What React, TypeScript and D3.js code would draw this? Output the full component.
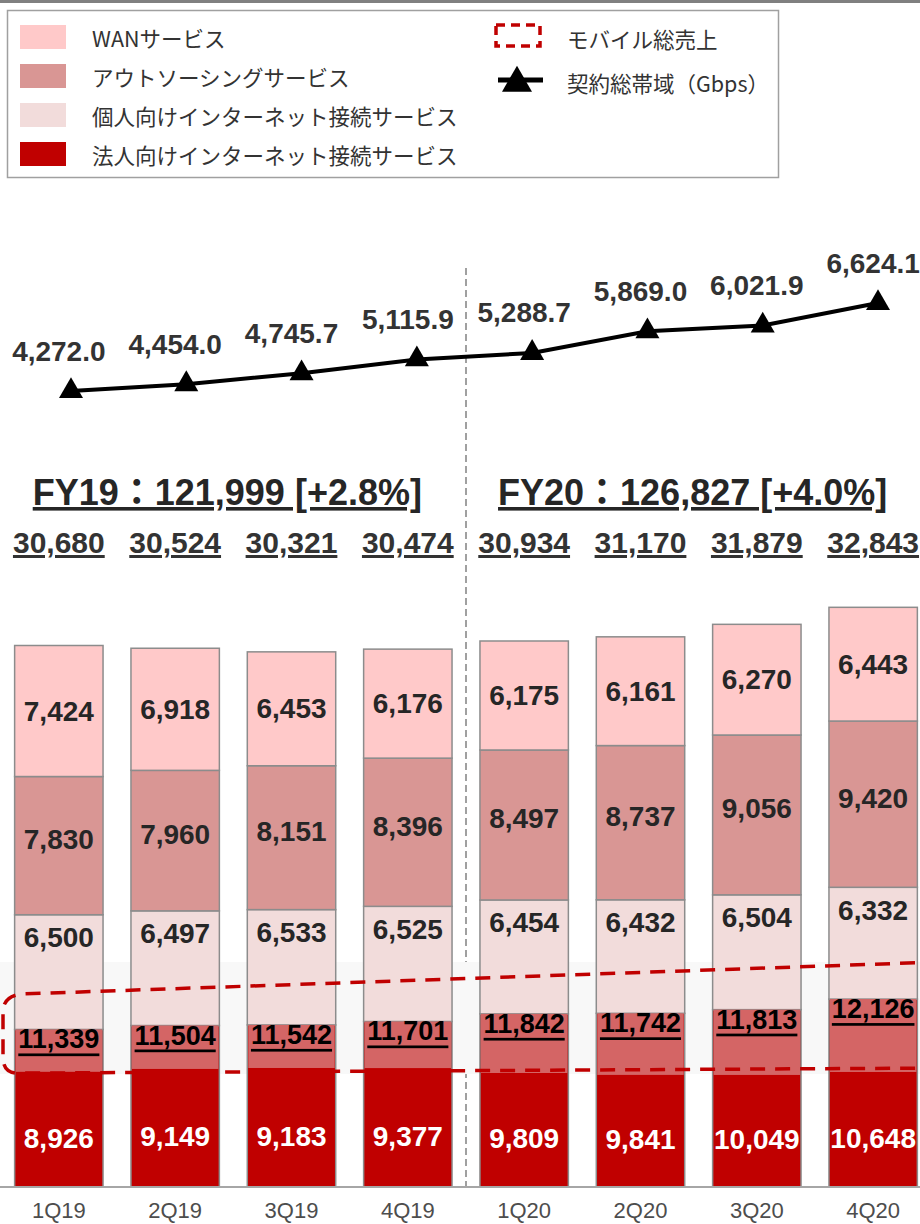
import React from "react";
import * as d3 from "d3";

// quarters on the x axis
const quarters = ["1Q19", "2Q19", "3Q19", "4Q19", "1Q20", "2Q20", "3Q20", "4Q20"];

// revenue segments (stacked bottom -> top)
const corporate = [8926, 9149, 9183, 9377, 9809, 9841, 10049, 10648];
const individual = [6500, 6497, 6533, 6525, 6454, 6432, 6504, 6332];
const outsourcing = [7830, 7960, 8151, 8396, 8497, 8737, 9056, 9420];
const wan = [7424, 6918, 6453, 6176, 6175, 6161, 6270, 6443];

// upper part of the corporate bar shaded as mobile
const corporateMobile = [2400, 2460, 2440, 2640, 3350, 3490, 3700, 4130];
const mobileTotal = [11339, 11504, 11542, 11701, 11842, 11742, 11813, 12126];

const totals = [30680, 30524, 30321, 30474, 30934, 31170, 31879, 32843];

// contracted bandwidth (Gbps)
const bandwidthGbps = [4272.0, 4454.0, 4745.7, 5115.9, 5288.7, 5869.0, 6021.9, 6624.1];

const fiscalYears = ["FY19", "FY20"];
const fiscalLabels = ["FY19：121,999 [+2.8%]", "FY20：126,827 [+4.0%]"];

const seriesKeys = ["wan", "outsourcing", "individual", "corporate"];
const seriesNames = [
  "WANサービス",
  "アウトソーシングサービス",
  "個人向けインターネット接続サービス",
  "法人向けインターネット接続サービス",
];

const colorScale = d3
  .scaleOrdinal<string, string>()
  .domain(seriesKeys)
  .range(["#ffc9c9", "#d99694", "#f2dcdb", "#c00000"]);
const mobileColor = "#d46565";

const W = 920;
const H = 1224;
const baseY = 1187;
const latin = "'Liberation Sans', Arial, 'Noto Sans CJK JP', sans-serif";
const jp = "'Noto Sans CJK JP', 'Liberation Sans', sans-serif";
const fmt = d3.format(",");
const fmt1 = d3.format(",.1f");

export default function App() {
  const xScale = d3
    .scaleBand<string>()
    .domain(quarters)
    .range([3, 929])
    .paddingInner(0.24)
    .paddingOuter(0.1);
  const bw = xScale.bandwidth();
  const cx = (q: string) => (xScale(q) as number) + bw / 2;

  const yScale = d3.scaleLinear().domain([0, 33000]).range([baseY, baseY - 33000 * 0.01765]);

  const lineX = d3.scalePoint<string>().domain(quarters).range([71, 878]);
  const lineY = d3.scaleLinear().domain([4272, 6624.1]).range([391, 303]);

  const rows = quarters.map((q, i) => ({
    q,
    corporate: corporate[i],
    individual: individual[i],
    outsourcing: outsourcing[i],
    wan: wan[i],
  }));
  const stacked = d3
    .stack<any>()
    .keys(["corporate", "individual", "outsourcing", "wan"])(rows);

  const linePath = d3
    .line<number>()
    .x((_, i) => lineX(quarters[i]) as number)
    .y((d) => lineY(d))(bandwidthGbps);

  const tri = d3.symbol().type(d3.symbolTriangle).size(250)() as string;
  const triBig = d3.symbol().type(d3.symbolTriangle).size(390)() as string;

  // dashed "mobile" band, corners in value space
  const tl = [22, yScale(10935)];
  const tr = [940, yScale(12750)];
  const bl = [18, yScale(6450)];
  const br = [940, yScale(6740)];
  const bandPath = `M${tr[0]},${tr[1]} L${tl[0]},${tl[1]} Q3,${tl[1] + 2} 3,${tl[1] + 18} L3,${bl[1] - 16} Q3,${bl[1]} ${bl[0]},${bl[1]} L${br[0]},${br[1]}`;

  const dividerX = ((xScale("4Q19") as number) + bw + (xScale("1Q20") as number)) / 2;

  return (
    <div style={{ position: "absolute", left: 0, top: 0 }}>
      <svg width={W} height={H} style={{ display: "block", background: "#fff" }}>
        {/* top rule */}
        <line x1={0} x2={W} y1={1.5} y2={1.5} stroke="#808080" strokeWidth={3} />

        {/* legend */}
        <rect x={7.5} y={10.5} width={771} height={167} fill="#fff" stroke="#a0a0a0" strokeWidth={1.5} />
        {seriesKeys.map((k, i) => (
          <g key={k} transform={`translate(0,${37 + i * 39})`}>
            <rect x={20} y={-12} width={46} height={24} fill={colorScale(k)} />
            <text x={92} y={0} dominantBaseline="central" fontFamily={jp} fontSize={21.5} fill="#333">
              {seriesNames[i]}
            </text>
          </g>
        ))}
        <rect x={496} y={25} width={44} height={21} fill="none" stroke="#c00000" strokeWidth={3.5} strokeDasharray="9 6" />
        <text x={567} y={38} dominantBaseline="central" fontFamily={jp} fontSize={21.5} fill="#333">
          モバイル総売上
        </text>
        <line x1={498} x2={543} y1={80} y2={80} stroke="#000" strokeWidth={5} />
        <path d={triBig} transform="translate(517,83)" fill="#000" />
        <text x={567} y={82} dominantBaseline="central" fontFamily={jp} fontSize={21.5} fill="#333">
          契約総帯域（Gbps）
        </text>

        {/* divider between fiscal years */}
        <line x1={dividerX} x2={dividerX} y1={268} y2={baseY} stroke="#a0a0a0" strokeWidth={2} strokeDasharray="7 4" />

        {/* bandwidth line */}
        <path d={linePath as string} fill="none" stroke="#000" strokeWidth={4} />
        {bandwidthGbps.map((v, i) => (
          <g key={quarters[i]}>
            <path d={tri} transform={`translate(${lineX(quarters[i])},${lineY(v)})`} fill="#000" />
            <text
              x={cx(quarters[i])}
              y={lineY(v) - 40}
              textAnchor="middle"
              dominantBaseline="central"
              fontFamily={latin}
              fontWeight="bold"
              fontSize={28}
              fill="#333"
            >
              {fmt1(v)}
            </text>
          </g>
        ))}

        {/* fiscal year headers */}
        {fiscalYears.map((fy, j) => {
          const qs = quarters.slice(j * 4, j * 4 + 4);
          const mid = d3.mean(qs, cx) as number;
          return (
            <text
              key={fy}
              x={mid - 6}
              y={505}
              textAnchor="middle"
              fontFamily={latin}
              fontWeight="bold"
              fontSize={36}
              fill="#262626"
              textDecoration="underline"
            >
              {fiscalLabels[j]}
            </text>
          );
        })}

        {/* quarter totals */}
        {totals.map((t, i) => (
          <text
            key={quarters[i]}
            x={cx(quarters[i])}
            y={553}
            textAnchor="middle"
            fontFamily={latin}
            fontWeight="bold"
            fontSize={30}
            fill="#333"
            textDecoration="underline"
          >
            {fmt(t)}
          </text>
        ))}

        {/* grey backdrop of the mobile band */}
        <rect x={0} y={yScale(12750)} width={W} height={yScale(6400) - yScale(12750)} fill="#f8f8f8" />

        {/* stacked bars */}
        {stacked.map((layer) => (
          <g key={layer.key}>
            {layer.map((d, i) => (
              <rect
                key={quarters[i]}
                x={xScale(quarters[i])}
                y={yScale(d[1])}
                width={bw}
                height={yScale(d[0]) - yScale(d[1])}
                fill={colorScale(layer.key)}
                stroke="#8c8c8c"
                strokeWidth={1.5}
              />
            ))}
          </g>
        ))}
        {/* mobile share of corporate */}
        {quarters.map((q, i) => (
          <rect
            key={q}
            x={(xScale(q) as number) + 1}
            y={yScale(corporate[i])}
            width={bw - 2}
            height={yScale(corporate[i] - corporateMobile[i]) - yScale(corporate[i])}
            fill={mobileColor}
          />
        ))}

        {/* segment labels */}
        {quarters.map((q, i) => {
          const c = cx(q);
          const base = corporate[i] + individual[i];
          const yWanMid = yScale(base + outsourcing[i] + wan[i] / 2);
          const yOutMid = yScale(base + outsourcing[i] / 2);
          const lab = { textAnchor: "middle" as const, dominantBaseline: "central" as const, fontFamily: latin, fontWeight: "bold", fontSize: 28 };
          return (
            <g key={q}>
              <text x={c} y={yWanMid} {...lab} fill="#262626">{fmt(wan[i])}</text>
              <text x={c} y={yOutMid - 6} {...lab} fill="#262626">{fmt(outsourcing[i])}</text>
              <text x={c} y={yScale(base) + 23} {...lab} fill="#262626">{fmt(individual[i])}</text>
              <text
                x={c}
                y={yScale(corporate[i]) + 10}
                {...lab}
                fontSize={27}
                fill="#000"
                textDecoration="underline"
              >
                {fmt(mobileTotal[i])}
              </text>
              <text x={c} y={yScale((corporate[i] - corporateMobile[i]) / 2) + 9} {...lab} fill="#fff">
                {fmt(corporate[i])}
              </text>
            </g>
          );
        })}

        {/* dashed mobile outline */}
        <path d={bandPath} fill="none" stroke="#c00000" strokeWidth={3.5} strokeDasharray="15 10" />

        {/* x axis */}
        <line x1={0} x2={W} y1={baseY} y2={baseY} stroke="#a6a6a6" strokeWidth={2} />
        {quarters.map((q) => (
          <text key={q} x={cx(q)} y={1218} textAnchor="middle" fontFamily={latin} fontSize={22} fill="#4d4d4d">
            {q}
          </text>
        ))}
      </svg>
    </div>
  );
}
